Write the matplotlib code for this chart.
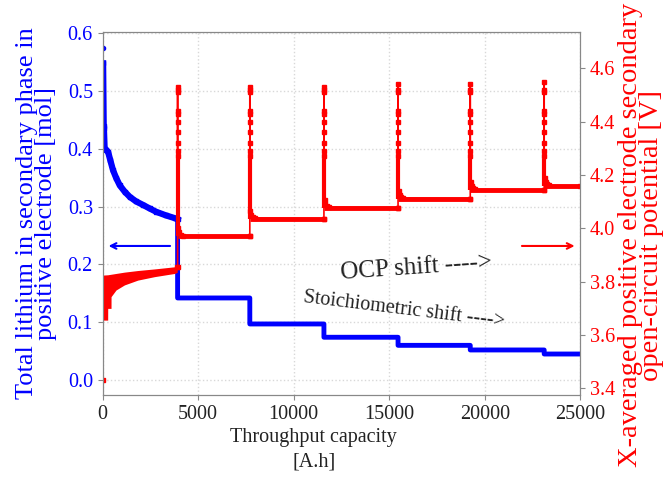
import numpy as np
import matplotlib.pyplot as plt

plt.rcParams['font.family'] = ['Liberation Serif', 'DejaVu Serif']

# lithium in secondary phase, first block [A.h], [mol]
li_x = [20, 50, 60, 100, 190, 280, 400, 540, 700, 890, 1150, 1415, 1750,
        2110, 2450, 2810, 3300, 3780, 3920]
li_y = [0.548, 0.44, 0.437, 0.40, 0.398, 0.395, 0.38, 0.363, 0.35, 0.337,
        0.326, 0.317, 0.309, 0.303, 0.297, 0.291, 0.285, 0.280, 0.278]
li_start = 0.575

# throughput where each new block starts [A.h]
step_x = [3920, 7700, 11580, 15460, 19240, 23110]
li_plateau = [0.142, 0.097, 0.074, 0.060, 0.052, 0.045]

# secondary OCP [V]
ocp_start = 3.432
band_x = [30, 260, 262, 435, 437, 697, 1137, 1834, 2710, 3758, 3900]
band_lo = [3.656, 3.656, 3.70, 3.70, 3.744, 3.769, 3.788, 3.806, 3.819, 3.831, 3.835]
band_hi = [3.825, 3.826, 3.826, 3.828, 3.828, 3.831, 3.836, 3.842, 3.848, 3.856, 3.857]
ocp_plateau = [3.971, 4.037, 4.078, 4.112, 4.144, 4.159]
ocp_peak = [4.53, 4.53, 4.53, 4.54, 4.54, 4.55]
spike_drop = [4.52, 4.51, 4.44, 4.43, 4.40, 4.36, 4.32, 4.29, 4.27]
spike_solid = 4.26   # below this the spike is a dense run of points
tail_dx = [30, 80, 160, 260]
tail_dv = [0.03, 0.015, 0.006, 0.002]

x_end = 25000
ends = step_x[1:] + [x_end]

# build the stepped paths
bx, by = list(li_x), list(li_y)
prev = li_y[-1]
for k in range(len(step_x)):
    bx += [step_x[k], step_x[k], ends[k]]
    by += [prev, li_plateau[k], li_plateau[k]]
    prev = li_plateau[k]

ox, oy = [band_x[-1]], [band_hi[-1]]
prev = band_hi[-1]
for k in range(len(step_x)):
    xk = step_x[k]
    vals = [ocp_peak[k]] + spike_drop
    ox += [xk] + [xk] * len(vals)
    oy += [prev] + vals
    ox += [xk + d for d in tail_dx] + [ends[k]]
    oy += [ocp_plateau[k] + d for d in tail_dv] + [ocp_plateau[k]]
    prev = ocp_plateau[k]

blue = '#0000ff'
red = '#ff0000'
fs = 14.5

fig = plt.figure(figsize=(6.67, 4.8), dpi=100)
ax = fig.add_axes([0.154, 0.177, 0.716, 0.756])
ax2 = ax.twinx()

ax.plot(bx, by, color=blue, lw=3.5)
ax.plot(li_x, li_y, color=blue, lw=4.5, marker='s', ms=3)
ax.plot([0], [li_start], 'o', color=blue, ms=3)

ax2.plot([0, band_x[0]], [ocp_start, band_lo[0]], color=red, lw=0.8, ls='--', alpha=0.6)
ax2.plot([0], [ocp_start], 's', color=red, ms=3)
ax2.fill_between(band_x, band_lo, band_hi, color=red, lw=0)
ax2.plot(ox, oy, color=red, lw=1.2, marker='s', ms=3.5)
ax2.vlines(step_x, ocp_plateau, spike_solid, color=red, lw=3)
ax2.hlines(ocp_plateau, step_x, ends, color=red, lw=3.5)

ax.set_xlim(0, x_end)
ax.set_ylim(-0.026, 0.602)
ax2.set_ylim(3.375, 4.736)
ax.set_yticks(np.arange(0, 0.61, 0.1))
ax2.set_yticks(np.arange(3.4, 4.61, 0.2))
ax.yaxis.set_major_formatter('{x:.1f}')
ax2.yaxis.set_major_formatter('{x:.1f}')

ax.grid(True, color='#d8d8d8', ls=':', lw=1)
for a in (ax, ax2):
    for s in a.spines.values():
        s.set_color('#888888')
ax.tick_params(axis='x', labelsize=fs, colors='#888888', labelcolor='#222222')
ax.tick_params(axis='y', labelsize=fs, colors='#888888', labelcolor=blue)
ax2.tick_params(axis='y', labelsize=fs, colors='#888888', labelcolor=red)

ax.set_xlabel('Throughput capacity\n[A.h]', fontsize=fs, color='#222222', linespacing=1.4)
ax.xaxis.set_label_coords(0.442, -0.09)
ax.set_ylabel('Total lithium in secondary phase in\npositive electrode [mol]',
              fontsize=19, color=blue, linespacing=0.85)
ax.yaxis.set_label_coords(-0.095, 0.5)
ax2.set_ylabel('X-averaged positive electrode secondary\nopen-circuit potential [V]',
               fontsize=20.5, color=red, linespacing=0.8)
ax2.yaxis.set_label_coords(1.078, 0.44)

# direction arrows
ax.annotate('', xy=(160, 0.232), xytext=(3670, 0.232),
            arrowprops=dict(arrowstyle='->', color=blue, lw=1.5))
ax.annotate('', xy=(24850, 0.232), xytext=(21800, 0.232),
            arrowprops=dict(arrowstyle='->', color=red, lw=1.5))

ax.text(0.656, 0.35, 'OCP shift ---->', transform=ax.transAxes, fontsize=18,
        rotation=4, ha='center', va='center', color='#222222')
ax.text(0.632, 0.235, 'Stoichiometric shift ---->', transform=ax.transAxes,
        fontsize=14.5, rotation=-7, ha='center', va='center', color='#222222')

fig.savefig('out.png', dpi=100)
